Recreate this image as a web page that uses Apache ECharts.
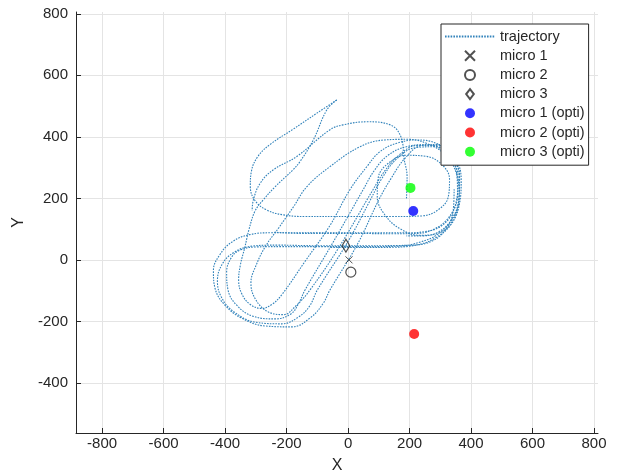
<!DOCTYPE html>
<html>
<head>
<meta charset="utf-8">
<script src="https://cdn.jsdelivr.net/npm/echarts@6/dist/echarts.min.js"></script>
<style>
  html, body { margin: 0; padding: 0; background: #fff; }
  #chart { width: 617px; height: 475px; }
</style>
</head>
<body>
<div id="chart"></div>
<script>
// Tick positions for both axes
const xTicks = [-800, -600, -400, -200, 0, 200, 400, 600, 800];
const yTicks = [-400, -200, 0, 200, 400, 600, 800];

// Microphone positions (measured)
const micro1 = [[3, 0]];
const micro2 = [[9, -40]];
const micro3 = [[-7, 46]];

// Optimised microphone positions
const micro1Opti = [[212, 159]];
const micro2Opti = [[215, -241]];
const micro3Opti = [[203, 234]];

// Recorded trajectory, split into continuous runs
const trajRunA = [
  [-37, 520], [-69, 488], [-113, 390], [-156, 320], [-179, 293], [-237, 238], [-276, 195],
  [-302, 160], [-322, 100], [-336, 40], [-350, -15], [-356, -65], [-345, -112], [-318, -145],
  [-281, -158], [-248, -145], [-216, -114], [-140, -5], [-60, 110], [6, 228], [61, 303],
  [104, 352], [158, 379], [223, 390], [288, 378], [338, 336], [362, 270], [360, 195],
  [335, 128], [290, 82], [235, 58], [170, 45], [60, 43], [-80, 43], [-220, 43], [-300, 42],
  [-350, 32], [-378, 10], [-395, -40], [-390, -100], [-360, -150], [-310, -183], [-237, -192],
  [-185, -175], [-160, -140], [-140, -98], [-50, 55], [49, 228], [85, 290], [130, 340],
  [190, 368], [260, 375], [320, 345], [352, 290], [356, 215], [338, 150], [300, 108],
  [250, 92], [190, 88], [50, 88], [-100, 88], [-250, 88], [-320, 82], [-375, 60], [-415, 20],
  [-438, -35], [-432, -95], [-400, -148], [-345, -190], [-270, -215], [-183, -218],
  [-120, -186], [-80, -140], [-59, -98], [30, 50], [100, 195], [140, 265], [185, 330],
  [240, 372], [305, 375], [350, 330], [368, 260], [362, 180], [335, 115], [285, 72],
  [230, 50], [150, 41], [50, 40], [-60, 40]
];

const trajRunB = [
  [-37, 520], [-100, 478], [-180, 424], [-250, 378], [-292, 338], [-314, 290], [-318, 238],
  [-302, 192], [-266, 163], [-215, 147], [-140, 141], [0, 141], [150, 141], [240, 143],
  [292, 162], [326, 205], [330, 262], [305, 310], [252, 337], [190, 340], [132, 315],
  [98, 266], [95, 205], [120, 146], [168, 102], [232, 80], [298, 88], [343, 133],
  [362, 205], [352, 282], [318, 340], [262, 376], [195, 392], [120, 390], [39, 368],
  [-59, 303], [-134, 238], [-178, 172], [-225, 105], [-268, 45], [-298, -15], [-316, -75],
  [-300, -130], [-258, -170], [-210, -178], [-170, -150], [-124, -98], [-30, 40], [81, 228],
  [120, 290], [165, 340], [225, 372], [290, 372], [340, 335], [363, 268], [360, 195],
  [336, 130], [292, 90], [240, 78], [190, 78]
];

const trajRunC = [
  [190, 200], [192, 270], [182, 330], [172, 400], [137, 439], [62, 449], [-16, 439],
  [-59, 423], [-167, 336], [-243, 293], [-286, 249], [-308, 195], [-312, 160]
];

const trajRunD = [
  [345, 230], [342, 160], [318, 100], [275, 62], [210, 48], [60, 46], [-100, 46],
  [-230, 48], [-310, 45], [-370, 25], [-410, -15], [-425, -70], [-410, -125], [-370, -170],
  [-300, -203], [-215, -208], [-160, -185], [-125, -150], [-100, -98], [0, 60], [70, 190],
  [110, 265], [160, 330], [220, 365], [285, 368], [335, 330], [358, 265], [352, 190],
  [325, 135], [280, 100], [225, 86], [150, 85], [0, 86], [-150, 86], [-240, 90]
];

const trajColor = '#3283bb';
const ink = '#262626';
const font = 'Liberation Sans';

function trajSeries(data) {
  return {
    name: 'trajectory',
    type: 'line',
    data: data,
    smooth: 0.4,
    symbol: 'none',
    silent: true,
    z: 2,
    lineStyle: { color: trajColor, width: 1.1, type: [1.6, 1.2] },
    itemStyle: { color: trajColor }
  };
}

function gridLines(axis, values) {
  return values.map(v => ({ [axis]: v }));
}

const crossPath = 'path://M0,0L10,10M10,0L0,10';
const diamondPath = 'path://M5,0L10,6.5L5,13L0,6.5Z';

const chart = echarts.init(document.getElementById('chart'), null, { renderer: 'canvas' });

chart.setOption({
  animation: false,
  backgroundColor: '#fff',
  grid: { left: 76, right: 19, top: 12, bottom: 42, containLabel: false, outerBoundsMode: 'none' },
  xAxis: {
    type: 'value',
    min: -885,
    max: 813,
    name: 'X',
    nameLocation: 'middle',
    nameGap: 25,
    nameTextStyle: { color: ink, fontSize: 16, fontFamily: font },
    axisLine: { show: true, onZero: false, lineStyle: { color: ink, width: 1 } },
    axisTick: { show: true, inside: true, length: 5, customValues: xTicks, lineStyle: { color: ink } },
    axisLabel: { customValues: xTicks, color: ink, fontSize: 15, fontFamily: font, margin: 3 },
    splitLine: { show: false }
  },
  yAxis: {
    type: 'value',
    min: -563,
    max: 806,
    name: 'Y',
    nameLocation: 'middle',
    nameGap: 46,
    nameTextStyle: { color: ink, fontSize: 16, fontFamily: font },
    axisLine: { show: true, onZero: false, lineStyle: { color: ink, width: 1 } },
    axisTick: { show: true, inside: true, length: 5, customValues: yTicks, lineStyle: { color: ink } },
    axisLabel: { customValues: yTicks, color: ink, fontSize: 15, fontFamily: font, margin: 8 },
    splitLine: { show: false }
  },
  legend: {
    orient: 'vertical',
    left: 441,
    top: 24,
    padding: [5, 4, 6, 3],
    itemWidth: 50,
    itemHeight: 10,
    itemGap: 4.2,
    z: 10,
    backgroundColor: '#fff',
    borderColor: ink,
    borderWidth: 1,
    borderRadius: 0,
    textStyle: { color: ink, fontSize: 14.5, fontFamily: font },
    data: [
      { name: 'trajectory', itemStyle: { opacity: 0 } },
      'micro 1', 'micro 2', 'micro 3', 'micro 1 (opti)', 'micro 2 (opti)', 'micro 3 (opti)'
    ]
  },
  series: [
    {
      name: 'grid',
      type: 'line',
      data: [],
      silent: true,
      z: 0,
      markLine: {
        silent: true,
        z: 0,
        symbol: 'none',
        animation: false,
        label: { show: false },
        lineStyle: { color: '#e4e4e4', width: 1, type: 'solid' },
        emphasis: { disabled: true },
        data: gridLines('xAxis', xTicks).concat(gridLines('yAxis', yTicks))
      }
    },
    trajSeries(trajRunA),
    trajSeries(trajRunB),
    trajSeries(trajRunC),
    trajSeries(trajRunD),
    {
      name: 'micro 1', type: 'scatter', data: micro1, symbol: crossPath, symbolSize: 7, z: 5,
      symbolKeepAspect: true,
      itemStyle: { color: 'rgba(0,0,0,0)', borderColor: ink, borderWidth: 1 }
    },
    {
      name: 'micro 2', type: 'scatter', data: micro2, symbol: 'circle', symbolSize: 10, z: 5,
      itemStyle: { color: 'rgba(0,0,0,0)', borderColor: ink, borderWidth: 1.2 }
    },
    {
      name: 'micro 3', type: 'scatter', data: micro3, symbol: diamondPath, symbolSize: [10, 13], z: 5,
      symbolKeepAspect: true,
      itemStyle: { color: 'rgba(0,0,0,0)', borderColor: ink, borderWidth: 1.2 }
    },
    {
      name: 'micro 1 (opti)', type: 'scatter', data: micro1Opti, symbol: 'circle', symbolSize: 10, z: 6,
      itemStyle: { color: '#0000ff' }
    },
    {
      name: 'micro 2 (opti)', type: 'scatter', data: micro2Opti, symbol: 'circle', symbolSize: 10, z: 6,
      itemStyle: { color: '#ff0000' }
    },
    {
      name: 'micro 3 (opti)', type: 'scatter', data: micro3Opti, symbol: 'circle', symbolSize: 10, z: 6,
      itemStyle: { color: '#00ff00' }
    }
  ]
});
</script>
</body>
</html>
